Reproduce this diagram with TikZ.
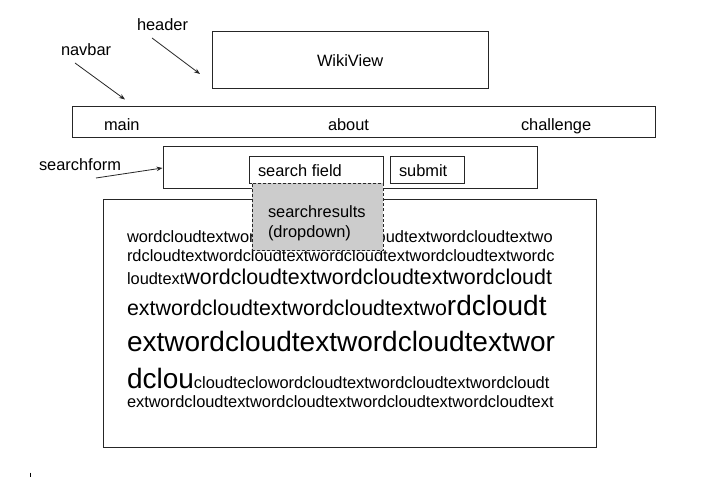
\documentclass[tikz,border=0pt]{standalone}
\usepackage{fontspec}
\setmainfont{Liberation Sans}
\usetikzlibrary{arrows.meta}
\newcommand\fsz[1]{\fontsize{#1bp}{#1bp}\selectfont}
\begin{document}
\begin{tikzpicture}[x=1bp,y=-1bp,
  box/.style={draw=black!85, line width=1bp, anchor=north west, inner sep=0pt, outer sep=0pt},
  lbl/.style={anchor=base west, inner sep=0pt, outer sep=0pt, font=\fsz{16.4}},
  cloud/.style={anchor=base west, inner sep=0pt, outer sep=0pt},
  arr/.style={-{Stealth[length=6bp,width=4.5bp]}, line width=0.8bp, draw=black!85},
]
\useasboundingbox (0,0) rectangle (723,477);
\fill[white] (0,0) rectangle (723,477);

% boxes
\node[box, minimum width=276bp, minimum height=57bp] (header) at (212,32) {};
\node[box, minimum width=583bp, minimum height=31bp] (navbar) at (72,107) {};
\node[box, minimum width=374bp, minimum height=42bp] (searchform) at (163,147) {};
\node[box, minimum width=134bp, minimum height=27bp] (field) at (249,156.5) {};
\node[box, minimum width=74bp, minimum height=27bp] (submit) at (390.5,156.5) {};
\node[box, minimum width=493bp, minimum height=247bp] (cloudbox) at (103,200) {};

% texts
\node[lbl] (t-wiki) at (317,67) {WikiView};
\node[lbl] (t-main) at (104,131) {main};
\node[lbl] (t-about) at (328,131) {about};
\node[lbl] (t-chal) at (521,131) {challenge};
\node[lbl] (t-field) at (258,176.5) {search field};
\node[lbl] (t-submit) at (399,176.5) {submit};

% word cloud
\node[cloud] (w1) at (127,243) {\fsz{16.4}wordcloudtextwordcloudtextwordcloudtextwordcloudtextwo};
\node[cloud] (w2) at (127,262) {\fsz{16.4}rdcloudtextwordcloudtextwordcloudtextwordcloudtextwordc};
\node[cloud] (w3) at (127,285) {\fsz{16.4}loudtext\fsz{21.4}wordcloudtextwordcloudtextwordcloudt};
\node[cloud] (w4) at (127,315) {\fsz{21.4}extwordcloudtextwordcloudtextwo\fsz{28}rdcloudt};
\node[cloud] (w5) at (127,351) {\fsz{28}extwordcloudtextwordcloudtextwor};
\node[cloud] (w6) at (127,388) {\fsz{28}dclou\fsz{16.4}cloudteclowordcloudtextwordcloudtextwordcloudt};
\node[cloud] (w7) at (127,407) {\fsz{16.4}extwordcloudtextwordcloudtextwordcloudtextwordcloudtext};

% dropdown
\node[box, dash pattern=on 3bp off 2bp, fill=gray!40, minimum width=131bp, minimum height=67bp] (dropdown) at (252.3,183.5) {};
\node[lbl] (t-sr) at (268,217.5) {searchresults};
\node[lbl] (t-dd) at (268,237.5) {(dropdown)};

% annotation labels
\node[lbl] (l-header) at (137,30.5) {header};
\node[lbl] (l-navbar) at (61,56) {navbar};
\node[lbl] (l-search) at (39,170.5) {searchform};

\coordinate (a1s) at (152,38);
\coordinate (a1e) at (200,74);
\coordinate (a2s) at (75,63);
\coordinate (a2e) at (125,99.5);
\coordinate (a3s) at (96,178);
\coordinate (a3e) at (162.5,168);
\draw[arr] (a1s) -- (a1e);
\draw[arr] (a2s) -- (a2e);
\draw[arr] (a3s) -- (a3e);

% small tick
\coordinate (tk1) at (30.5,472.5);
\coordinate (tk2) at (30.5,477);
\draw[line width=1bp] (tk1) -- (tk2);
\end{tikzpicture}
\end{document}
